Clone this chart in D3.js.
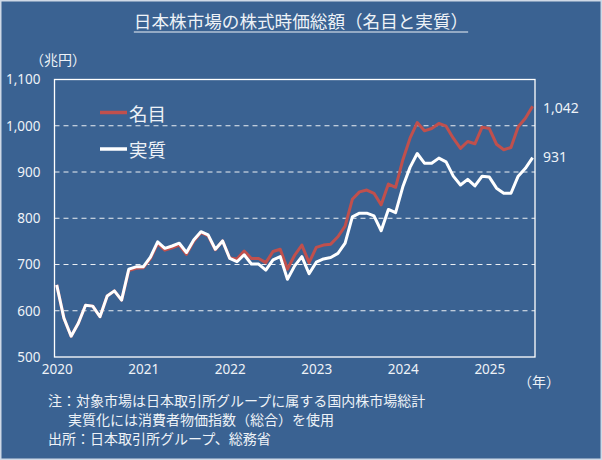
<!DOCTYPE html>
<html><head><meta charset="utf-8">
<script src="https://cdn.jsdelivr.net/npm/d3@7"></script>
<style>
html,body{margin:0;padding:0;background:#3a6292;}
svg{display:block;}
text{font-family:"Noto Sans CJK JP","Noto Sans",sans-serif;fill:#eef2f7;}
</style></head>
<body><svg id="c" width="602" height="460"></svg>
<script>
const title = "日本株市場の株式時価総額（名目と実質）";
const unitLabel = "（兆円）";
const yearLabel = "（年）";
const seriesNames = ["名目", "実質"];
const yearTicks = [2020, 2021, 2022, 2023, 2024, 2025];
const yTicks = [500, 600, 700, 800, 900, 1000, 1100];
const startYear = 2020; // monthly data from Jan 2020 to Jul 2025
const nominal = [656,584,545,573,612,610,587,632,643,623,
  687,692,693,713,745,731,736,742,722,750,
  769,762,732,751,714,712,729,713,713,704,
  728,733,690,720,742,704,737,742,744,760,
  783,841,857,861,854,829,874,867,926,973,
  1007,989,994,1005,999,973,951,966,961,997,
  994,960,948,953,998,1016,1042];
const real = [656,584,545,573,612,610,587,632,643,623,
  690,695,695,716,749,735,740,746,726,753,
  771,764,733,751,713,706,721,701,701,688,
  710,717,668,697,717,680,705,712,715,724,
  746,803,811,811,805,773,819,812,868,910,
  940,919,919,930,922,891,872,884,870,891,
  889,865,854,854,891,908,931];
const notes = ["注：対象市場は日本取引所グループに属する国内株市場総計",
  "実質化には消費者物価指数（総合）を使用",
  "出所：日本取引所グループ、総務省"];

const svg = d3.select("#c");
const W = 602, H = 460;
const box = {l: 54.5, r: 535, t: 79.5, b: 357};
svg.append("rect").attr("x",0.75).attr("y",0.75).attr("width",W-1.5).attr("height",H-1.5)
  .attr("fill","#3a6292").attr("stroke","#cfd9e6").attr("stroke-width",1.5);

const x = d3.scaleLinear().domain([0, 66]).range([56.7, 532.6]);
const y = d3.scaleLinear().domain([500, 1100]).range([box.b, box.t]);

// title
const tt = svg.append("text").attr("x", 301).attr("y", 28).attr("text-anchor","middle")
  .style("font-size","17.6px").text(title);
const tw = tt.node().getComputedTextLength();
svg.append("line").attr("x1",301-tw/2).attr("x2",301+tw/2).attr("y1",32).attr("y2",32)
  .attr("stroke","#eef2f7").attr("stroke-width",1);

svg.append("text").attr("x",30).attr("y",65).style("font-size","14px").text(unitLabel);

// grid
const grid = svg.append("g");
grid.selectAll("line").data(yTicks.filter(v => v > 500 && v < 1100)).join("line")
  .attr("x1", box.l).attr("x2", box.r).attr("y1", d => y(d)).attr("y2", d => y(d))
  .attr("stroke","#ffffff").attr("stroke-width",1).attr("stroke-dasharray","5,4").attr("opacity",0.9);

// frame
svg.append("rect").attr("x",box.l).attr("y",box.t).attr("width",box.r-box.l).attr("height",box.b-box.t)
  .attr("fill","none").attr("stroke","#ffffff").attr("stroke-width",1.3);

// y axis
const yAxis = d3.axisLeft(y).tickValues(yTicks).tickSize(0).tickPadding(14).tickFormat(d3.format(","));
const ya = svg.append("g").attr("transform",`translate(${box.l},0)`).call(yAxis);
ya.select(".domain").remove();
ya.selectAll("text").style("font-size","13.5px").style("font-family","'Noto Sans','Open Sans',sans-serif").attr("fill","#eef2f7");

// x axis
const xAxis = d3.axisBottom(x).tickValues(yearTicks.map(yr => (yr - startYear) * 12))
  .tickSize(0).tickPadding(7).tickFormat(d => String(startYear + d / 12));
const xa = svg.append("g").attr("transform",`translate(0,${box.b})`).call(xAxis);
xa.select(".domain").remove();
xa.selectAll("text").style("font-size","13.5px").style("font-family","'Noto Sans','Open Sans',sans-serif").attr("fill","#eef2f7");

svg.append("text").attr("x",518).attr("y",387).style("font-size","14px").text(yearLabel);

// lines
const line = d3.line().x((d,i) => x(i)).y(d => y(d)).curve(d3.curveLinear);
svg.append("path").datum(nominal).attr("d", line).attr("fill","none")
  .attr("stroke","#c0504d").attr("stroke-width",3).attr("stroke-linejoin","round");
svg.append("path").datum(real).attr("d", line).attr("fill","none")
  .attr("stroke","#ffffff").attr("stroke-width",3).attr("stroke-linejoin","round");

// end labels
svg.append("text").attr("x",543).attr("y",y(nominal[nominal.length-1])+3)
  .style("font-size","14px").style("font-family","'Noto Sans',sans-serif").attr("dominant-baseline","middle")
  .text(d3.format(",")(nominal[nominal.length-1]));
svg.append("text").attr("x",543).attr("y",y(real[real.length-1])+1)
  .style("font-size","14px").style("font-family","'Noto Sans',sans-serif").attr("dominant-baseline","middle")
  .text(d3.format(",")(real[real.length-1]));

// legend
const leg = [{name: seriesNames[0], color:"#c0504d", yy:112.5}, {name: seriesNames[1], color:"#ffffff", yy:149}];
leg.forEach(d => {
  svg.append("line").attr("x1",100).attr("x2",127).attr("y1",d.yy).attr("y2",d.yy)
    .attr("stroke",d.color).attr("stroke-width",3.5);
  svg.append("text").attr("x",129).attr("y",d.yy).attr("dominant-baseline","central")
    .style("font-size","18.5px").text(d.name);
});

// notes
svg.append("text").attr("x",48).attr("y",406).style("font-size","14px").text(notes[0]);
svg.append("text").attr("x",68).attr("y",425).style("font-size","14px").text(notes[1]);
svg.append("text").attr("x",48).attr("y",444).style("font-size","14px").text(notes[2]);
</script></body></html>
